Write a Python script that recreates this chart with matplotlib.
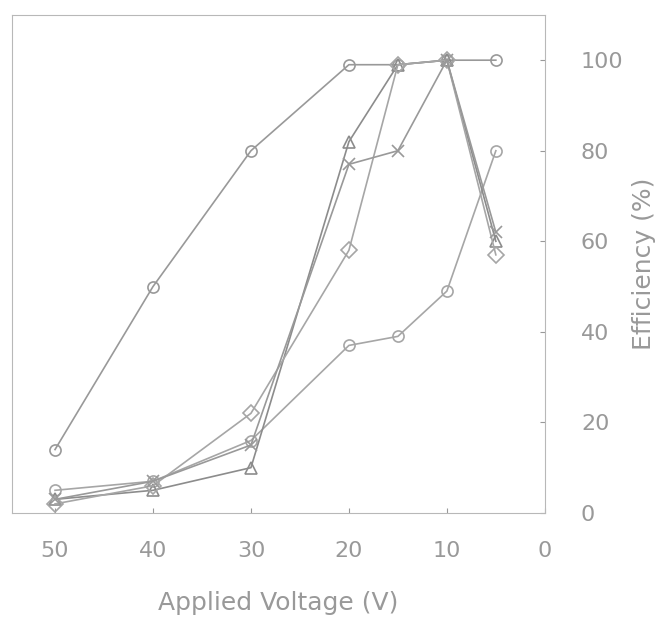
import matplotlib
matplotlib.use("Agg")
import matplotlib.pyplot as plt

# Applied voltage points (V)
voltage = [50, 40, 30, 20, 15, 10, 5]

# Series values (%)
series_a = [14, 50, 80, 99, 99, 100, 100]
series_b = [5, 7, 16, 37, 39, 49, 80]
series_c = [3, 5, 10, 82, 99, 100, 60]
series_d = [2, 6, 22, 58, 99, 100, 57]
series_e = [3, 7, 15, 77, 80, 100, 62]

series = [series_a, series_b, series_c, series_d, series_e]
markers = ["o", "o", "^", "D", "x"]
colors = ["0.6", "0.65", "0.55", "0.65", "0.6"]

x_ticks = [50, 40, 30, 20, 10, 0]
y_ticks = [0, 20, 40, 60, 80, 100]

fig = plt.figure(figsize=(6.62, 6.21), dpi=100)
ax = fig.add_axes([0.018, 0.174, 0.805, 0.802])

for vals, m, c in zip(series, markers, colors):
    ax.plot(voltage, vals, marker=m, color=c, linewidth=1.2, markersize=8,
            markerfacecolor="none", markeredgecolor=c, markeredgewidth=1.2)

ax.set_xlim(54.4, 0)
ax.set_ylim(0, 110)
ax.set_xticks(x_ticks)
ax.set_yticks(y_ticks)
ax.yaxis.tick_right()
ax.yaxis.set_label_position("right")
ax.tick_params(axis="both", labelsize=16, colors="0.6", direction="in")
ax.tick_params(axis="x", pad=20)
ax.tick_params(axis="y", pad=26)
for s in ax.spines.values():
    s.set_color("0.72")
ax.set_xlabel("Applied Voltage (V)", fontsize=18, color="0.6", labelpad=22)
ax.set_ylabel("Efficiency (%)", fontsize=18, color="0.6", labelpad=6)

fig.savefig("out.png", dpi=100)
